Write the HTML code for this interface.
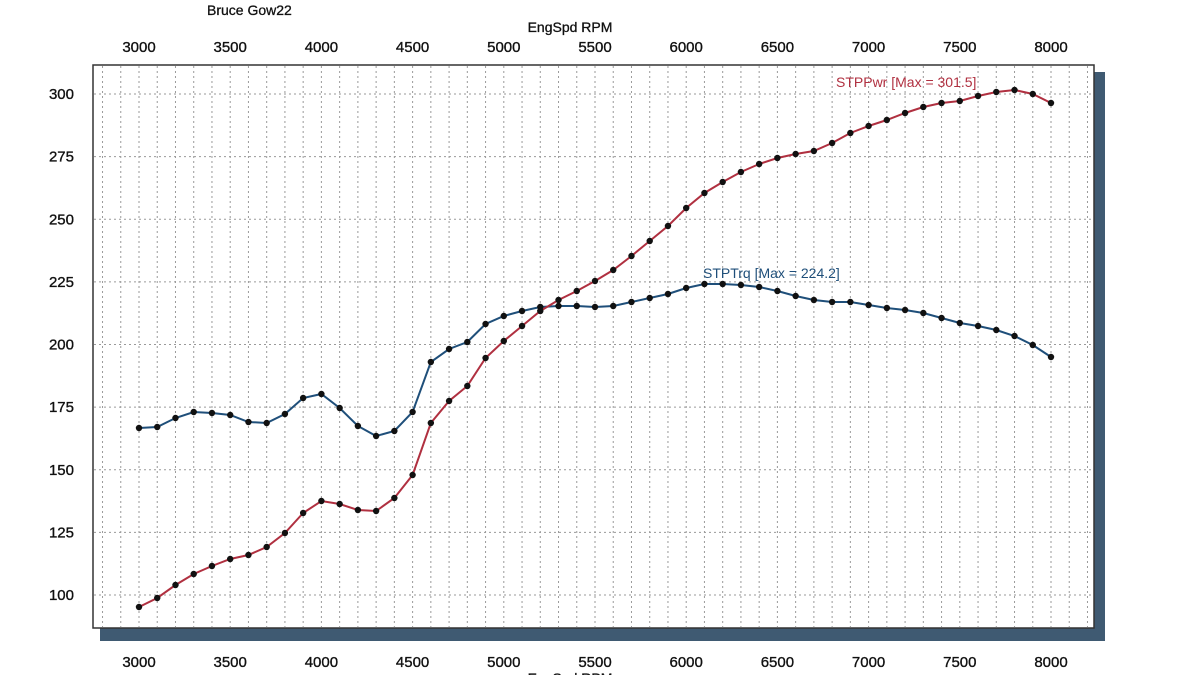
<!DOCTYPE html>
<html><head><meta charset="utf-8"><style>
html,body{margin:0;padding:0;background:#fff;}
svg{display:block;font-family:"Liberation Sans",Arial,sans-serif;}
</style></head><body>
<svg id="s" width="1200" height="675" viewBox="0 0 1200 675" xmlns="http://www.w3.org/2000/svg">
<rect x="0" y="0" width="1200" height="675" fill="#fff"/>
<rect x="100" y="72" width="1005" height="569" fill="#3f5a72"/>
<rect x="93" y="65" width="1001" height="563" fill="#fff" stroke="#333" stroke-width="1.5"/>
<g id="grid" stroke="#9a9a9a" stroke-width="1" stroke-dasharray="2,3"></g>
<text x="207" y="15" font-size="14" fill="#111" stroke="#111" stroke-width="0.3">Bruce Gow22</text>
<text x="570" y="32" font-size="14" fill="#111" stroke="#111" stroke-width="0.3" text-anchor="middle">EngSpd RPM</text>
<text x="570" y="683" font-size="14" fill="#111" stroke="#111" stroke-width="0.3" text-anchor="middle">EngSpd RPM</text>
<g id="labels" font-size="15" fill="#111" stroke="#111" stroke-width="0.35"></g>
<polyline id="trq" fill="none" stroke="#1f4f7a" stroke-width="2"/>
<polyline id="pwr" fill="none" stroke="#b03040" stroke-width="2"/>
<g id="pts" fill="#111"></g>
<text x="836" y="87" font-size="14" fill="#b03040">STPPwr [Max = 301.5]</text>
<text x="703" y="278" font-size="14" fill="#1f4f7a">STPTrq [Max = 224.2]</text>
</svg>
<script>
var NS="http://www.w3.org/2000/svg";
function X(r){return 139+(r-3000)*0.1824;}
function Y(v){return 94+(300-v)*2.505;}
var g=document.getElementById('grid');
for(var r=2800;r<=8200;r+=100){var x=X(r);if(x<94||x>1093)continue;var l=document.createElementNS(NS,'line');l.setAttribute('x1',x);l.setAttribute('x2',x);l.setAttribute('y1',66);l.setAttribute('y2',627);g.appendChild(l);}
for(var v=100;v<=300;v+=25){var y=Y(v);var l=document.createElementNS(NS,'line');l.setAttribute('x1',94);l.setAttribute('x2',1093);l.setAttribute('y1',y);l.setAttribute('y2',y);g.appendChild(l);}
var L=document.getElementById('labels');
function t(x,y,s,a){var e=document.createElementNS(NS,'text');e.setAttribute('x',x);e.setAttribute('y',y);e.setAttribute('text-anchor',a);e.textContent=s;L.appendChild(e);}
for(var r=3000;r<=8000;r+=500){t(X(r),52,r,'middle');t(X(r),667,r,'middle');}
for(var v=100;v<=300;v+=25){t(74,Y(v)+5,v,'end');}
var trq=[428,427,418,412,413,415,422,423,414,398,394,408,426,436,431,412,362,349,342,324,316,311,307,306,306,307,306,302,298,294,288,284,284,285,287,291,296,300,302,302,305,308,310,313,318,323,326,330,336,345,357];
var pwr=[607,598,585,574,566,559,555,547,533,513,501,504,510,511,498,475,423,401,386,358,341,326,311,300,291,281,270,256,241,226,208,193,182,172,164,158,154,151,143,133,126,120,113,107,103,101,96,92,90,94,103];
var P=document.getElementById('pts');
function ser(arr,id){var s=[];for(var i=0;i<arr.length;i++){var x=139+i*18.24;s.push(x+','+arr[i]);var c=document.createElementNS(NS,'circle');c.setAttribute('cx',x);c.setAttribute('cy',arr[i]);c.setAttribute('r',3.2);P.appendChild(c);}document.getElementById(id).setAttribute('points',s.join(' '));}
ser(trq,'trq');ser(pwr,'pwr');
</script>
</body></html>
